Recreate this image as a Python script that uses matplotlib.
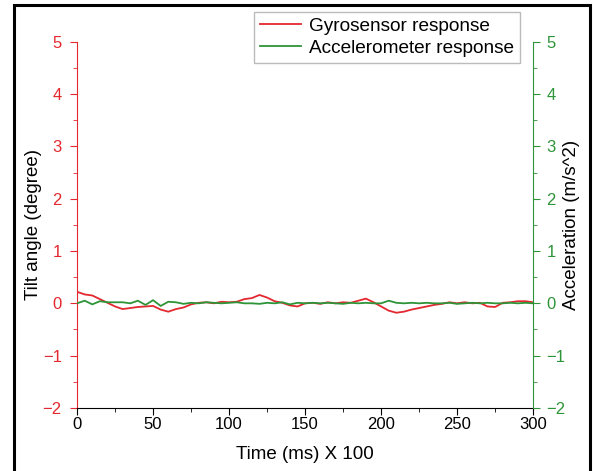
import matplotlib
matplotlib.use("Agg")
import matplotlib.pyplot as plt
from matplotlib.patches import Rectangle
from matplotlib.ticker import MultipleLocator

plt.rcParams["font.family"] = ["Liberation Sans", "DejaVu Sans"]

# time axis (ms x 100), sampled every 5 units
time = [0, 5, 10, 15, 20, 25, 30, 35, 40, 45, 50, 55, 60, 65, 70, 75, 80, 85, 90, 95,
        100, 105, 110, 115, 120, 125, 130, 135, 140, 145, 150, 155, 160, 165, 170, 175,
        180, 185, 190, 195, 200, 205, 210, 215, 220, 225, 230, 235, 240, 245, 250, 255,
        260, 265, 270, 275, 280, 285, 290, 295, 300]

gyro = [0.22, 0.17, 0.15, 0.08, 0.01, -0.06, -0.11, -0.09, -0.07, -0.06, -0.05, -0.12,
        -0.16, -0.11, -0.08, -0.02, 0.01, 0.02, 0.00, 0.03, 0.02, 0.03, 0.08, 0.10,
        0.16, 0.11, 0.04, 0.01, -0.04, -0.06, 0.00, 0.01, -0.01, 0.02, 0.00, 0.02,
        0.01, 0.05, 0.09, 0.02, -0.06, -0.14, -0.18, -0.16, -0.12, -0.09, -0.06, -0.03,
        -0.01, 0.02, 0.00, 0.02, 0.00, 0.01, -0.06, -0.07, 0.01, 0.02, 0.04, 0.04, 0.02]

accel = [0.00, 0.05, -0.02, 0.04, 0.02, 0.02, 0.02, 0.00, 0.05, -0.03, 0.06, -0.05,
         0.03, 0.02, -0.01, 0.01, 0.00, 0.02, 0.01, 0.00, 0.01, 0.02, 0.00, 0.00,
         -0.01, 0.01, 0.00, 0.02, -0.02, 0.01, 0.00, 0.01, 0.00, 0.01, 0.00, -0.01,
         0.01, 0.00, 0.01, 0.00, 0.00, 0.05, 0.01, 0.00, 0.01, 0.00, 0.01, 0.00,
         0.00, 0.01, -0.01, 0.00, 0.01, 0.00, 0.01, 0.00, 0.00, 0.01, 0.00, 0.01, 0.00]

RED = "#e3282f"
GREEN = "#2e9438"

fig = plt.figure(figsize=(5.93, 4.71), dpi=100)
ax = fig.add_axes([0.130, 0.134, 0.769, 0.777])
ax2 = ax.twinx()

l1, = ax.plot(time, gyro, color=RED, lw=1.3, label="Gyrosensor response")
l2, = ax2.plot(time, accel, color=GREEN, lw=1.3, label="Accelerometer response")

ax.set_xlim(0, 300)
ax.set_ylim(-2, 5)
ax2.set_ylim(-2, 5)
ax.xaxis.set_major_locator(MultipleLocator(50))
ax.xaxis.set_minor_locator(MultipleLocator(25))
for a in (ax, ax2):
    a.yaxis.set_major_locator(MultipleLocator(1))
    a.yaxis.set_minor_locator(MultipleLocator(0.5))
    a.spines["top"].set_visible(False)

ax.spines["left"].set_color(RED)
ax.spines["right"].set_visible(False)
ax2.spines["left"].set_visible(False)
ax2.spines["right"].set_color(GREEN)
ax2.spines["bottom"].set_visible(False)

ax.tick_params(axis="x", which="major", length=5, pad=1.5, labelsize=12)
ax.tick_params(axis="x", which="minor", length=3)
ax.tick_params(axis="y", which="both", colors=RED, labelsize=12)
ax.tick_params(axis="y", which="major", length=5, pad=6)
ax.tick_params(axis="y", which="minor", length=3)
ax2.tick_params(axis="y", which="both", colors=GREEN, labelsize=12)
ax2.tick_params(axis="y", which="major", length=5, pad=4.5)
ax2.tick_params(axis="y", which="minor", length=3)

ax.set_xlabel("Time (ms) X 100", fontsize=13.5, labelpad=10)
ax.set_ylabel("Tilt angle (degree)", fontsize=13.5)
ax2.set_ylabel("Acceleration (m/s^2)", fontsize=13.5)
ax.yaxis.set_label_coords(-0.077, 0.5)
ax2.yaxis.set_label_coords(1.066, 0.5)

fig.legend(handles=[l1, l2], loc="upper left", bbox_to_anchor=(0.428, 0.975),
           fontsize=13.7, frameon=True, fancybox=False, edgecolor="#aaaaaa",
           handlelength=2.2, handletextpad=0.4, borderpad=0.3, labelspacing=0.25,
           borderaxespad=0)

# black frame around the whole picture
fig.patches.append(Rectangle((14 / 593, -0.02), 576 / 593, 1 - 5 / 471 + 0.02,
                             transform=fig.transFigure, fill=False,
                             edgecolor="black", lw=2.2))

fig.savefig("out.png", dpi=100)
